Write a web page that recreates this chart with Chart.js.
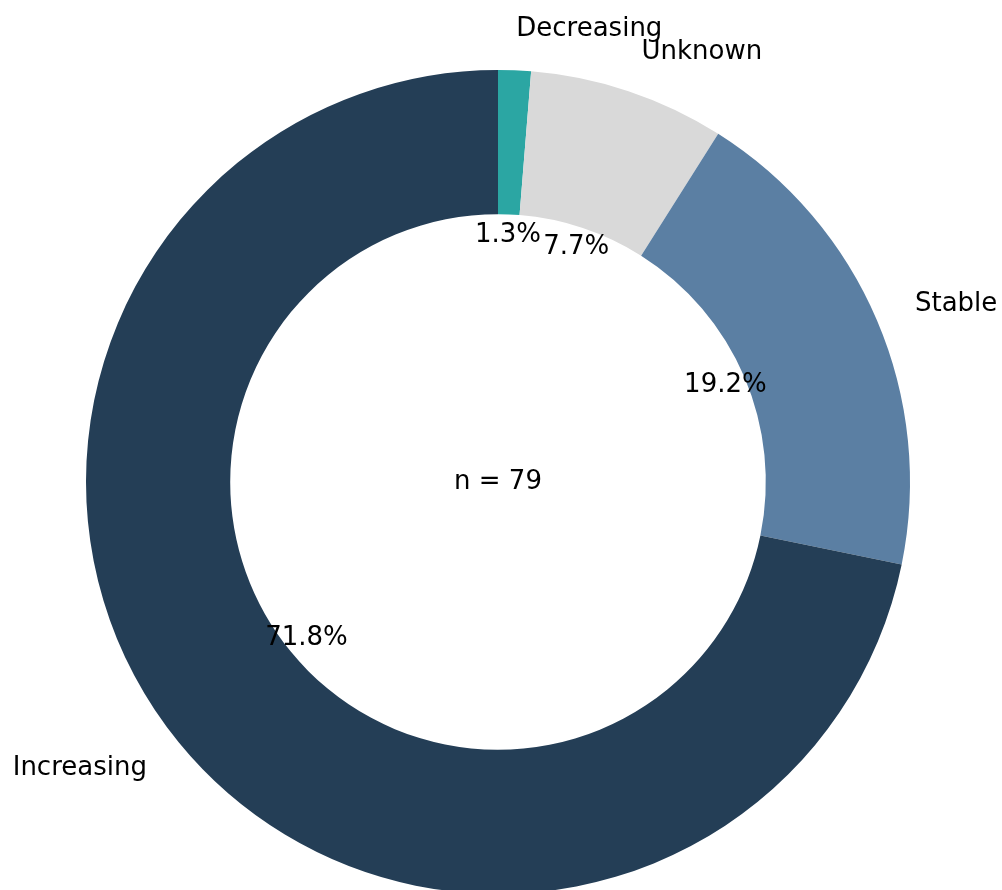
<!DOCTYPE html>
<html>
<head>
<meta charset="utf-8">
<script src="https://cdn.jsdelivr.net/npm/chart.js@4.4.1/dist/chart.umd.min.js"></script>
<style>
  html, body { margin: 0; padding: 0; background: #fff; overflow: hidden; }
  canvas { display: block; }
</style>
</head>
<body>
<canvas id="trendchart" width="1002" height="894"></canvas>
<script>
var labels = ["Decreasing", "Unknown", "Stable", "Increasing"];
var counts = [1, 6, 15, 56];
var colors = ["#2ba6a3", "#d9d9d9", "#5b7fa3", "#243e56"];
var nTotal = 79;

var FONT = "26px 'DejaVu Sans'";

// draws the outside names, percentages and the n in the hole (matplotlib-ish)
var pieText = {
  id: "pieText",
  afterDraw: function(chart) {
    var ctx = chart.ctx;
    var arcs = chart.getDatasetMeta(0).data;
    var sum = counts.reduce(function(a, b) { return a + b; }, 0);
    ctx.save();
    ctx.font = FONT;
    ctx.fillStyle = "#000";
    ctx.textBaseline = "middle";
    arcs.forEach(function(arc, i) {
      var mid = (arc.startAngle + arc.endAngle) / 2;
      var R = arc.outerRadius;
      var lx = arc.x + Math.cos(mid) * R * 1.1;
      var ly = arc.y + Math.sin(mid) * R * 1.1;
      ctx.textAlign = Math.cos(mid) >= 0 ? "left" : "right";
      ctx.fillText(labels[i], lx, ly);
      var px = arc.x + Math.cos(mid) * R * 0.6;
      var py = arc.y + Math.sin(mid) * R * 0.6;
      ctx.textAlign = "center";
      ctx.fillText((counts[i] / sum * 100).toFixed(1) + "%", px, py);
    });
    ctx.textAlign = "center";
    ctx.fillText("n = " + nTotal, arcs[0].x, arcs[0].y);
    ctx.restore();
  }
};

var trendChart = new Chart(document.getElementById("trendchart"), {
  type: "doughnut",
  data: {
    labels: labels,
    datasets: [{
      data: counts,
      backgroundColor: colors,
      borderWidth: 0
    }]
  },
  options: {
    responsive: false,
    animation: false,
    cutout: "65%",
    layout: { padding: { left: 86, right: 92, top: 70, bottom: 0 } },
    plugins: {
      legend: { display: false },
      tooltip: { enabled: false }
    }
  },
  plugins: [pieText]
});
</script>
</body>
</html>
